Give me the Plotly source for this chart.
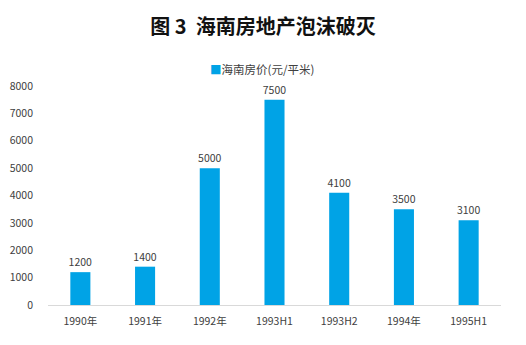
import plotly.graph_objects as go

periods = ["1990年", "1991年", "1992年", "1993H1", "1993H2", "1994年", "1995H1"]
prices = [1200, 1400, 5000, 7500, 4100, 3500, 3100]
y_ticks = [0, 1000, 2000, 3000, 4000, 5000, 6000, 7000, 8000]
series_name = "海南房价(元/平米)"

font_family = "Noto Sans CJK SC, Microsoft YaHei, sans-serif"
bar_color = "#00A3E6"
text_color = "#404040"

W, H = 526, 345
M_L, M_R, M_T, M_B = 48, 25, 86, 40
plot_w = W - M_L - M_R
plot_h = H - M_T - M_B

fig = go.Figure(
    go.Bar(
        x=periods,
        y=prices,
        name=series_name,
        marker=dict(color=bar_color, line=dict(width=0)),
        text=[str(v) for v in prices],
        textposition="outside",
        constraintext="none",
        textfont=dict(size=10.5, color=text_color, family=font_family),
        cliponaxis=False,
        showlegend=False,
    )
)

fig.update_layout(
    width=W,
    height=H,
    margin=dict(l=M_L, r=M_R, t=M_T, b=M_B, autoexpand=False),
    paper_bgcolor="white",
    plot_bgcolor="white",
    bargap=0.69,
    showlegend=False,
    title=dict(
        text="<b>图 3  海南房地产泡沫破灭</b>",
        x=0.5,
        xanchor="center",
        y=1 - 27 / H,
        yref="container",
        yanchor="middle",
        font=dict(size=20, color="#111111", family=font_family),
    ),
    font=dict(family=font_family, color=text_color),
    annotations=[
        dict(
            text=f"<span style='color:{bar_color}'>■</span>{series_name}",
            x=(262 - M_L) / plot_w,
            xref="paper",
            xanchor="center",
            y=1 + (M_T - 69) / plot_h,
            yref="paper",
            yanchor="middle",
            showarrow=False,
            font=dict(size=11.5, color=text_color, family=font_family),
        )
    ],
)

fig.update_xaxes(
    showgrid=False,
    showline=True,
    linecolor="#D9D9D9",
    linewidth=1,
    ticks="",
    ticklabelstandoff=6,
    tickfont=dict(size=10.5, color=text_color, family=font_family),
)
fig.update_yaxes(
    range=[0, 8000],
    tickvals=y_ticks,
    showgrid=False,
    zeroline=False,
    showline=False,
    ticks="",
    tickfont=dict(size=10.5, color=text_color, family=font_family),
    ticklabelstandoff=14,
)

fig.write_html("out.html")
